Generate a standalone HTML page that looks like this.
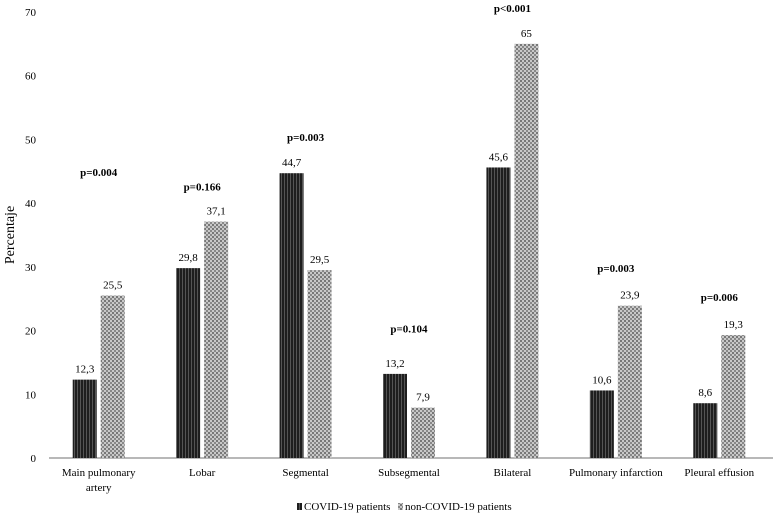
<!DOCTYPE html>
<html><head><meta charset="utf-8"><style>
html,body{margin:0;padding:0;background:#fff;}
svg{display:block;font-family:"Liberation Serif",serif;}
</style></head><body>
<svg id="chart" width="784" height="516" viewBox="0 0 784 516">
<defs>
<pattern id="pDark" width="3" height="3" patternUnits="userSpaceOnUse">
<rect width="3" height="3" fill="#1e1e1e"/><rect x="2" width="1" height="3" fill="#555"/>
</pattern>
<pattern id="pLight" width="4" height="4" patternUnits="userSpaceOnUse">
<rect width="4" height="4" fill="#c8c8c8"/><rect width="2" height="2" fill="#777"/><rect x="2" y="2" width="2" height="2" fill="#888"/>
</pattern>
</defs>
<g id="axes"></g><g id="bars"></g><g id="labels"></g>
<text x="14" y="235" font-size="14" text-anchor="middle" transform="rotate(-90 14 235)">Percentaje</text>
<g>
<rect x="297" y="503" width="5" height="7" fill="url(#pDark)"/>
<text x="304" y="510" font-size="11">COVID-19 patients</text>
<rect x="398" y="503" width="5" height="7" fill="url(#pLight)"/>
<text x="405" y="510" font-size="11">non-COVID-19 patients</text>
</g>
</svg>
<script>
const categories=[["Main pulmonary","artery"],["Lobar"],["Segmental"],["Subsegmental"],["Bilateral"],["Pulmonary infarction"],["Pleural effusion"]];
const covid=[12.3,29.8,44.7,13.2,45.6,10.6,8.6];
const nonCovid=[25.5,37.1,29.5,7.9,65,23.9,19.3];
const pValues=["p=0.004","p=0.166","p=0.003","p=0.104","p<0.001","p=0.003","p=0.006"];
const pLevels=[44.9,42.6,50.4,20.3,70.6,29.8,25.3];
const yTicks=[0,10,20,30,40,50,60,70];

const NS="http://www.w3.org/2000/svg";
const x0=49,x1=773,yBase=458,yTop=12,yMax=70;
const y=v=>yBase-(v/yMax)*(yBase-yTop);
const bw=(x1-x0)/categories.length;
const cx=i=>x0+bw*(i+0.5)-2;
function mk(tag,attrs,parent,text){const e=document.createElementNS(NS,tag);for(const k in attrs)e.setAttribute(k,attrs[k]);if(text!==undefined)e.textContent=text;parent.appendChild(e);return e;}
const axes=document.getElementById('axes'),bars=document.getElementById('bars'),labels=document.getElementById('labels');
yTicks.forEach(t=>{
 const e=mk('text',{x:36,y:y(t)+4,'font-size':11,'text-anchor':'end'},axes,String(t));
 
 
});
const ax=mk('line',{x1:x0,x2:x1,y1:yBase,y2:yBase,stroke:'#a0a0a0','stroke-width':1.5},axes);


const fmt=v=>String(v).replace('.',',');
categories.forEach((c,i)=>{
 const c0=cx(i);
 const b1=mk('rect',{x:c0-26,y:y(covid[i]),width:24,height:yBase-y(covid[i]),fill:'url(#pDark)'},bars);
 
 
 const b2=mk('rect',{x:c0+2,y:y(nonCovid[i]),width:24,height:yBase-y(nonCovid[i]),fill:'url(#pLight)'},bars);
 
 
 const l1=mk('text',{x:c0-14,y:y(covid[i])-7,'font-size':11,'text-anchor':'middle'},labels,fmt(covid[i]));
 
 
 const l2=mk('text',{x:c0+14,y:y(nonCovid[i])-7,'font-size':11,'text-anchor':'middle'},labels,fmt(nonCovid[i]));
 
 
 const p=mk('text',{x:c0,y:y(pLevels[i])+4,'font-size':11,'font-weight':'bold','text-anchor':'middle'},labels,pValues[i]);
 
 
 c.forEach((line,j)=>{
  const t=mk('text',{x:c0,y:476+j*15,'font-size':11,'text-anchor':'middle'},labels,line);
  
  
 });
});
</script>
</body></html>
